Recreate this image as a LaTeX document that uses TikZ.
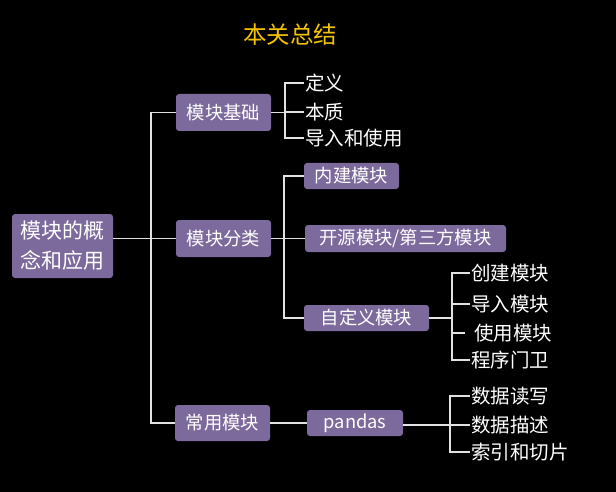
\documentclass[tikz,border=0pt]{standalone}
\usepackage{fontspec}
\setmainfont{Noto Sans CJK SC}
\definecolor{boxfill}{HTML}{7D6A9C}
\definecolor{linec}{HTML}{E2E2E2}
\definecolor{titlec}{HTML}{F5C400}
\begin{document}
\begin{tikzpicture}[x=1pt,y=-1pt,
  box/.style={draw=none,fill=boxfill,rounded corners=3pt,text=white,inner sep=0pt,
    font=\fontsize{18.3}{22}\selectfont},
  leaf/.style={anchor=west,text=white,inner xsep=1pt,inner ysep=0pt,
    font=\fontsize{19.5}{22}\selectfont},
  conn/.style={draw=linec,line width=1.4pt}]
\fill[black] (0,0) rectangle (616,492);
\useasboundingbox (0,0) rectangle (616,492);
\node[text=titlec,font=\fontsize{23.5}{26}\selectfont] (title) at (290,35) {本关总结};
\node[box,minimum width=101pt,minimum height=64pt,align=center,
  font=\fontsize{21}{30}\selectfont] (root) at (62.5,246) {模块的概\\念和应用};
\node[box,minimum width=95pt,minimum height=37pt] (b1) at (223.5,112.5) {模块基础};
\node[box,minimum width=95pt,minimum height=37pt] (b2) at (223.5,238.5) {模块分类};
\node[box,minimum width=95pt,minimum height=36pt] (b3) at (222.5,423) {常用模块};
\node[box,minimum width=95pt,minimum height=26pt] (c1) at (351.5,176) {内建模块};
\node[box,minimum width=201pt,minimum height=27pt] (c2) at (405.5,238.5) {开源模块/第三方模块};
\node[box,minimum width=125pt,minimum height=26pt] (c3) at (366.5,318) {自定义模块};
\node[box,minimum width=96pt,minimum height=26pt] (p) at (355,423) {pandas};
\node[leaf] (a1) at (304,83) {定义};
\node[leaf] (a2) at (304,112) {本质};
\node[leaf] (a3) at (304,138) {导入和使用};
\node[leaf] (d1) at (470,273) {创建模块};
\node[leaf] (d2) at (470,304) {导入模块};
\node[leaf] (d3) at (473,333) {使用模块};
\node[leaf] (d4) at (470,360) {程序门卫};
\node[leaf] (e1) at (470,396) {数据读写};
\node[leaf] (e2) at (470,425) {数据描述};
\node[leaf] (e3) at (470,452) {索引和切片};
% root level
\draw[conn] (root.east |- b2.west) -- (b2.west);
\draw[conn] (b1.west) -- ++(-25,0) coordinate (t1) |- (b3.west);
% basics
\draw[conn] (a1.west) -- ++(-19,0) coordinate (t2) |- (a3.west);
\draw[conn] (b1.east) -- (b1.east -| t2);
\draw[conn] (a2.west) -- (a2.west -| t2);
% categories
\draw[conn] (c1.west) -- ++(-20,0) |- (c3.west);
\draw[conn] (b2.east) -- (c2.west);
% custom modules
\draw[conn] (d1.west) -- ++(-18,0) coordinate (t3) |- (d4.west);
\draw[conn] (c3.east) -- (c3.east -| t3);
\draw[conn] (d2.west) -- (d2.west -| t3);
\draw[conn] (d3.west) ++(-8,0) coordinate (d3l) -- (d3l -| t3);
% pandas
\draw[conn] (b3.east) -- (p.west);
\draw[conn] (e1.west) -- ++(-20,0) coordinate (t4) |- (e3.west);
\draw[conn] (p.east |- e2.west) -- (e2.west);
\end{tikzpicture}
\end{document}
